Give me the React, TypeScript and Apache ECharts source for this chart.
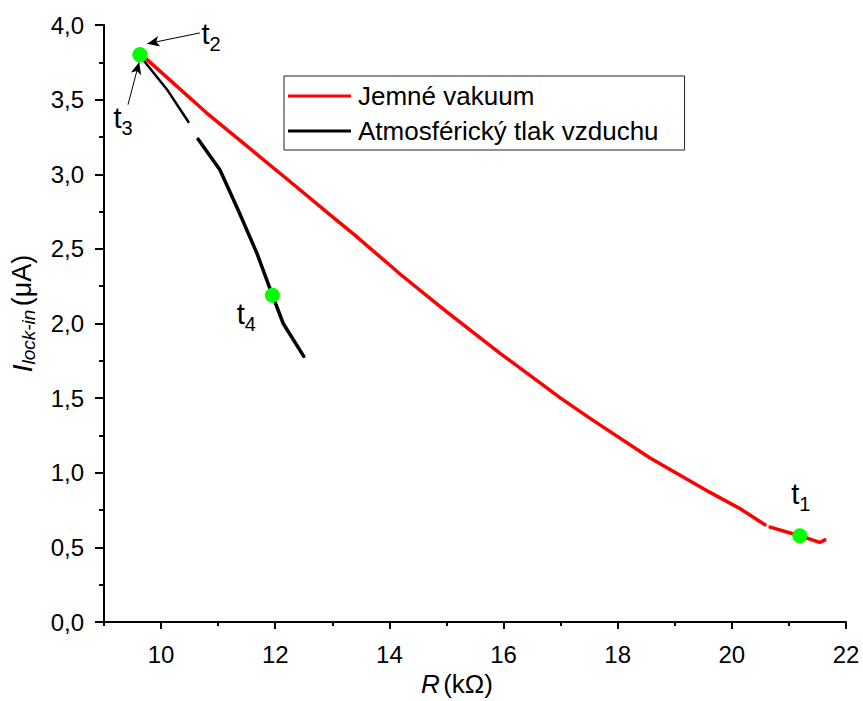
import { useEffect, useRef } from 'react';
import * as echarts from 'echarts';

// Axis ticks
const xMajorTicks = [10, 12, 14, 16, 18, 20, 22];
const xMinorTicks = [9, 11, 13, 15, 17, 19, 21];

// "Jemné vakuum" (red), two segments (small gap near 20.6 kΩ)
const vacR1 = [9.63, 9.75, 10.8, 12.2, 13.02, 13.4, 14.01, 14.19, 15.0, 15.94, 17.0, 17.51, 17.86, 18.56, 19.61, 20.14, 20.58];
const vacI1 = [3.80, 3.77, 3.41, 2.97, 2.71, 2.59, 2.39, 2.33, 2.08, 1.80, 1.50, 1.366, 1.277, 1.10, 0.87, 0.76, 0.652];
const vacR2 = [20.67, 21.19, 21.54, 21.63];
const vacI2 = [0.636, 0.578, 0.533, 0.55];

// "Atmosférický tlak vzduchu" (black), two segments
const atmR1 = [9.63, 9.72, 10.1, 10.48];
const atmI1 = [3.80, 3.75, 3.57, 3.35];
const atmR2 = [10.65, 11.03, 11.35, 11.68, 11.95, 12.14, 12.5];
const atmI2 = [3.235, 3.03, 2.76, 2.47, 2.19, 2.0, 1.78];

// Marked points t1..t4
const markNames = ['1', '2', '3', '4'];
const markR = [21.19, 9.63, 9.63, 11.95];
const markI = [0.578, 3.8, 3.8, 2.19];
const markLabelOffsets = [[1, -42], [71, -21], [-17, 63], [-26, 19]];

// Annotation arrows (data coordinates): [from, to]
const arrowT2 = [[10.68, 3.947], [9.76, 3.875]];
const arrowT3 = [[9.42, 3.466], [9.615, 3.75]];

const pairs = (xs: number[], ys: number[]) => xs.map((x, i) => [x, ys[i]]);

const FONT = 'Liberation Sans, Arial, sans-serif';
const RED = '#ff0000';

export default function App() {
  const ref = useRef<HTMLDivElement>(null);

  useEffect(() => {
    const chart = echarts.init(ref.current!, null, { renderer: 'svg' });
    const fmt = (v: number) => v.toFixed(1).replace('.', ',');

    const lineSeries = (name: string, color: string, width: number, data: number[][]) => ({
      type: 'line',
      name,
      data,
      xAxisIndex: 0,
      yAxisIndex: 0,
      showSymbol: false,
      symbol: 'none',
      smooth: false,
      lineStyle: { color, width, cap: 'round', join: 'round' },
      itemStyle: { color },
      z: 2,
    });

    const option: any = {
      animation: false,
      backgroundColor: '#ffffff',
      textStyle: { fontFamily: FONT },
      grid: { left: 104, right: 17, top: 25, bottom: 79, containLabel: false, outerBoundsMode: 'none' },
      legend: {
        data: [
          { name: 'Jemné vakuum', icon: 'rect', itemStyle: { color: RED } },
          { name: 'Atmosférický tlak vzduchu', icon: 'rect', itemStyle: { color: '#000' } },
        ],
        orient: 'vertical',
        left: 284,
        top: 76,
        padding: [5, 26, 4, 4],
        itemGap: 5,
        itemWidth: 63,
        itemHeight: 3,
        borderColor: '#222',
        borderWidth: 1,
        borderRadius: 0,
        backgroundColor: '#fff',
        textStyle: { fontSize: 26, color: '#000', fontFamily: FONT, lineHeight: 30, padding: [0, 0, 0, 2] },
      },
      xAxis: [
        {
          type: 'value',
          min: 9,
          max: 22,
          position: 'bottom',
          name: '{r|R} {n|(kΩ)}',
          nameLocation: 'middle',
          nameGap: 49,
          nameTextStyle: {
            padding: [0, 36, 0, 0],
            rich: {
              r: { fontSize: 26, fontStyle: 'italic', color: '#000', fontFamily: FONT },
              n: { fontSize: 26, color: '#000', fontFamily: FONT },
            },
          },
          axisLine: { show: true, onZero: false, lineStyle: { color: '#000', width: 2 } },
          axisTick: { show: true, customValues: xMajorTicks, length: 7, inside: false, lineStyle: { color: '#000', width: 2 } },
          axisLabel: { show: true, customValues: xMajorTicks, fontSize: 24, color: '#000', margin: 20, fontFamily: FONT },
          splitLine: { show: false },
        },
        {
          type: 'value',
          min: 9,
          max: 22,
          position: 'bottom',
          axisLine: { show: false, onZero: false },
          axisTick: { show: true, customValues: xMinorTicks, length: 4, inside: false, lineStyle: { color: '#000', width: 2 } },
          axisLabel: { show: false },
          splitLine: { show: false },
        },
      ],
      yAxis: {
        type: 'value',
        min: 0,
        max: 4,
        interval: 0.5,
        name: '{i|I}{s|lock-in} {n|(μA)}',
        nameLocation: 'middle',
        nameGap: 66,
        nameTextStyle: {
          padding: [0, 0, 0, 20],
          rich: {
            i: { fontSize: 28, fontStyle: 'italic', color: '#000', fontFamily: FONT },
            s: { fontSize: 19, fontStyle: 'italic', color: '#000', fontFamily: FONT, padding: [13, 0, 0, 0] },
            n: { fontSize: 27, color: '#000', fontFamily: FONT },
          },
        },
        axisLine: { show: true, onZero: false, lineStyle: { color: '#000', width: 2 } },
        axisTick: { show: true, length: 9, inside: false, lineStyle: { color: '#000', width: 2 } },
        minorTick: { show: true, splitNumber: 2, length: 5, lineStyle: { color: '#000', width: 2 } },
        axisLabel: { fontSize: 24, color: '#000', margin: 20, formatter: fmt, fontFamily: FONT },
        splitLine: { show: false },
        minorSplitLine: { show: false },
      },
      series: [
        lineSeries('Jemné vakuum', RED, 3.5, pairs(vacR1, vacI1)),
        lineSeries('Jemné vakuum', RED, 3.5, pairs(vacR2, vacI2)),
        lineSeries('Atmosférický tlak vzduchu', '#000', 2.5, pairs(atmR1, atmI1)),
        lineSeries('Atmosférický tlak vzduchu', '#000', 3.5, pairs(atmR2, atmI2)),
        {
          type: 'scatter',
          name: 'marks',
          xAxisIndex: 0,
          yAxisIndex: 0,
          symbol: 'circle',
          symbolSize: 15,
          itemStyle: { color: '#00ff00', opacity: 1 },
          z: 5,
          data: markNames.map((n, i) => ({
            value: [markR[i], markI[i]],
            label: {
              show: true,
              position: 'inside',
              offset: markLabelOffsets[i],
              formatter: '{t|t}{s|' + n + '}',
              rich: {
                t: { fontSize: 29, color: '#000', fontFamily: FONT },
                s: { fontSize: 20, color: '#000', fontFamily: FONT, padding: [20, 0, 0, 0] },
              },
            },
          })),
          markLine: {
            silent: true,
            symbol: ['none', 'arrow'],
            symbolSize: [8, 12],
            lineStyle: { color: '#000', width: 1, type: 'solid' },
            label: { show: false },
            emphasis: { disabled: true },
            data: [
              [{ coord: arrowT2[0] }, { coord: arrowT2[1] }],
              [{ coord: arrowT3[0] }, { coord: arrowT3[1] }],
            ],
          },
        },
      ],
    };

    chart.setOption(option);
    return () => chart.dispose();
  }, []);

  return (
    <div
      ref={ref}
      style={{ position: 'fixed', left: 0, top: 0, width: 863, height: 701, background: '#fff' }}
    />
  );
}
